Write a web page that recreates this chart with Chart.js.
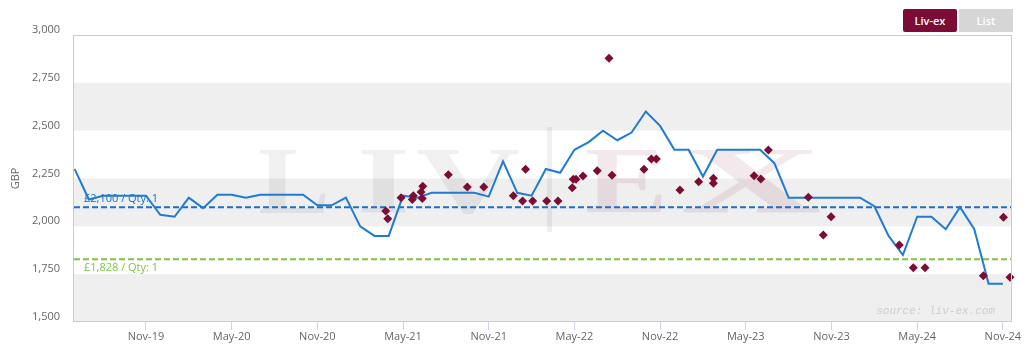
<!DOCTYPE html>
<html lang="en">
<head>
<meta charset="UTF-8">
<title>Liv-ex price history</title>
<script src="https://cdn.jsdelivr.net/npm/chart.js@4.4.0/dist/chart.umd.min.js"></script>
<style>
    * { margin: 0; padding: 0; box-sizing: border-box; }
    body { background: #fff; font-family: "Open Sans", sans-serif; }
    .wrap { position: relative; width: 1024px; height: 353px; }
    .btn {
        position: absolute;
        top: 9px;
        width: 54px;
        height: 23px;
        line-height: 23px;
        text-align: center;
        color: #fff;
        font-size: 11px;
        font-weight: 600;
    }
    .btn.on { left: 903px; background: #7b0c35; border-radius: 2px; }
    .btn.off { left: 959px; background: #d6d6d6; }
</style>
</head>
<body>
<div class="wrap">
    <canvas id="chart" width="1024" height="353"></canvas>
    <div class="btn on">Liv-ex</div>
    <div class="btn off">List</div>
</div>
<script>
// x is counted in months from Jun-19 (0)
const months = ['Jun-19','Jul-19','Aug-19','Sep-19','Oct-19','Nov-19','Dec-19','Jan-20','Feb-20','Mar-20','Apr-20','May-20',
    'Jun-20','Jul-20','Aug-20','Sep-20','Oct-20','Nov-20','Dec-20','Jan-21','Feb-21','Mar-21','Apr-21','May-21',
    'Jun-21','Jul-21','Aug-21','Sep-21','Oct-21','Nov-21','Dec-21','Jan-22','Feb-22','Mar-22','Apr-22','May-22',
    'Jun-22','Jul-22','Aug-22','Sep-22','Oct-22','Nov-22','Dec-22','Jan-23','Feb-23','Mar-23','Apr-23','May-23',
    'Jun-23','Jul-23','Aug-23','Sep-23','Oct-23','Nov-23','Dec-23','Jan-24','Feb-24','Mar-24','Apr-24','May-24',
    'Jun-24','Jul-24','Aug-24','Sep-24','Oct-24','Nov-24'];
const livexPrices = [2300,2140,2160,2160,2160,2160,2060,2050,2150,2095,2165,2165,
    2150,2165,2165,2165,2165,2110,2110,2150,2000,1950,1950,2160,
    2150,2175,2175,2175,2175,2155,2340,2175,2160,2300,2280,2400,
    2440,2500,2450,2490,2600,2525,2400,2400,2260,2400,2400,2400,
    2400,2330,2150,2150,2150,2150,2150,2150,2105,1950,1850,2050,
    2050,1985,2100,1985,1700,1700];

// individual trades
const tradeX = [21.79,21.93,22.86,23.65,23.72,24.26,24.38,24.35,26.17,27.50,28.65,30.72,31.37,31.58,32.08,33.06,33.85,
    34.85,34.92,35.11,35.60,36.60,37.42,37.63,39.87,40.39,40.74,42.39,43.70,44.73,44.73,47.58,48.05,48.58,
    51.38,52.43,52.97,57.75,58.73,59.55,63.63,65.04,65.50];
const tradeY = [2080,2040,2150,2140,2160,2180,2210,2145,2270,2205,2205,2160,2132,2298,2132,2132,2132,
    2202,2246,2246,2263,2291,2878,2267,2298,2352,2352,2190,2233,2251,2225,2265,2247,2399,
    2152,1955,2050,1903,1784,1784,1742,2047,1734];

const tickPositions = [5,11,17,23,29,35,41,47,53,59,65];
const tickLabels = ['Nov-19','May-20','Nov-20','May-21','Nov-21','May-22','Nov-22','May-23','Nov-23','May-24','Nov-24'];

const refPrices = [2100, 1828];
const refLabels = ['£2,100 / Qty: 1', '£1,828 / Qty: 1'];
const refColors = ['#1a6ecc', '#7cc540'];

const bands = [[1500,1750],[2000,2250],[2500,2750]];
const xMin = -0.04, xMax = 65.57;

const decor = {
    id: 'decor',
    beforeDatasetsDraw(chart) {
        const {ctx, chartArea: a, scales: {x, y}} = chart;
        ctx.save();
        ctx.fillStyle = '#efefef';
        bands.forEach(b => {
            const t = y.getPixelForValue(b[1]), btm = y.getPixelForValue(b[0]);
            ctx.fillRect(a.left, t, a.right - a.left, btm - t);
        });

        // LIV|EX watermark
        ctx.font = 'bold 96px "Liberation Serif"';
        ctx.textBaseline = 'alphabetic';
        const grey = 'rgba(0,0,0,0.06)', pink = 'rgba(125,10,48,0.09)';
        [['L',258,330,grey],['I',357,410,grey],['V',416,520,grey],['E',585,668,pink],['X',680,822,pink]].forEach(l => {
            const w = ctx.measureText(l[0]).width;
            ctx.save();
            ctx.translate(l[1], 213);
            ctx.scale((l[2] - l[1]) / w, 1);
            ctx.fillStyle = l[3];
            ctx.fillText(l[0], 0, 0);
            ctx.restore();
        });
        ctx.fillStyle = grey;
        ctx.fillRect(547, 127, 5, 105);

        ctx.font = '11px "Open Sans"';
        ctx.textBaseline = 'middle';
        ctx.textAlign = 'left';
        refPrices.forEach((p, i) => {
            const py = y.getPixelForValue(p);
            ctx.fillStyle = refColors[i];
            ctx.fillText(refLabels[i], a.left + 10, i === 0 ? py - 8 : py + 9);
        });

        ctx.font = 'italic 11px "Liberation Mono"';
        ctx.fillStyle = '#cdcdcd';
        ctx.textAlign = 'right';
        ctx.fillText('source: liv-ex.com', a.right - 16, a.bottom - 11);
        ctx.restore();
    },
    afterDraw(chart) {
        const {ctx, chartArea: a} = chart;
        ctx.save();
        ctx.strokeStyle = '#cccccc';
        ctx.lineWidth = 1;
        ctx.strokeRect(a.left - 0.5, a.top + 0.5, a.right - a.left + 1, a.bottom - a.top - 1);
        ctx.restore();
    }
};

new Chart(document.getElementById('chart'), {
    data: {
        datasets: [
            {
                type: 'scatter',
                data: tradeX.map((v, i) => ({x: v, y: tradeY[i]})),
                pointStyle: 'rectRot',
                pointRadius: 4.5,
                pointBorderWidth: 0,
                backgroundColor: '#7b0c35',
                clip: 6
            },
            {
                type: 'line',
                data: months.map((m, i) => ({x: i, y: livexPrices[i]})),
                borderColor: '#1f7bd4',
                borderWidth: 2,
                pointRadius: 0,
                tension: 0
            },
            ...refPrices.map((p, i) => ({
                type: 'line',
                data: [{x: xMin, y: p}, {x: xMax, y: p}],
                borderColor: refColors[i],
                borderWidth: 2,
                borderDash: [6, 3],
                pointRadius: 0
            }))
        ]
    },
    plugins: [decor],
    options: {
        responsive: false,
        animation: false,
        layout: { padding: { top: 35, right: 13, left: 0, bottom: 0 } },
        plugins: { legend: { display: false }, tooltip: { enabled: false } },
        scales: {
            x: {
                type: 'linear',
                min: xMin,
                max: xMax,
                afterBuildTicks: s => { s.ticks = tickPositions.map(v => ({value: v})); },
                afterFit: s => { s.height = 31; },
                grid: { drawOnChartArea: false, drawTicks: true, tickLength: 8, color: '#ccd6eb' },
                border: { display: false },
                ticks: {
                    autoSkip: false,
                    maxRotation: 0,
                    padding: 0,
                    color: '#666',
                    font: { family: 'Open Sans', size: 11 },
                    callback: (v, i) => tickLabels[i]
                }
            },
            y: {
                min: 1500,
                max: 3000,
                afterFit: s => { s.width = 74; },
                grid: { display: false, drawTicks: false },
                border: { display: false },
                ticks: {
                    stepSize: 250,
                    padding: 14,
                    labelOffset: -5,
                    color: '#666',
                    font: { family: 'Open Sans', size: 11 },
                    callback: v => v.toLocaleString('en-US')
                },
                title: {
                    display: true,
                    text: 'GBP',
                    color: '#666',
                    font: { family: 'Open Sans', size: 11 },
                    padding: { top: 9 }
                }
            }
        }
    }
});
</script>
</body>
</html>
